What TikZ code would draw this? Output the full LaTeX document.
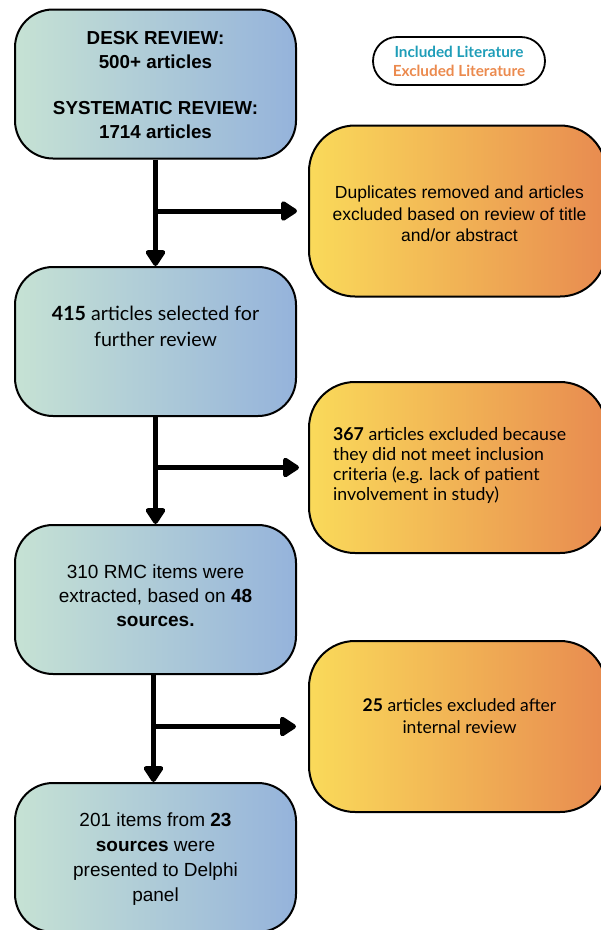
\documentclass[tikz,border=0pt]{standalone}
\usepackage{xcolor}
\usepackage{fontspec}
\setmainfont{Liberation Sans}
\newfontfamily\latofont{Lato}
\usepackage{tikz}
\usetikzlibrary{calc}
\usetikzlibrary{arrows.meta}
\definecolor{bluel}{HTML}{C6E2D4}
\definecolor{bluem}{HTML}{ABD5EC}
\definecolor{bluer}{HTML}{95B3DB}
\definecolor{orgl}{HTML}{FADA5A}
\definecolor{orgm}{HTML}{F0B35C}
\definecolor{orgr}{HTML}{E88B50}
\definecolor{inctxt}{HTML}{1E9DB8}
\definecolor{exctxt}{HTML}{EB8A4E}
\newcommand{\bnum}[1]{\textbf{#1}}

\begin{document}
\begin{tikzpicture}[x=1pt,y=-1pt,>={Triangle[width=22pt,length=18pt,round]},
	incbox/.style={rectangle,draw=black,line width=2pt,rounded corners=38pt,minimum width=281pt,minimum height=149pt,left color=bluel,middle color=bluem,right color=bluer},
	excbox/.style={rectangle,draw=black,line width=2pt,rounded corners=46pt,minimum width=297pt,minimum height=171pt,left color=orgl,middle color=orgm,right color=orgr},
	flow/.style={line width=5pt,->}]
			\useasboundingbox (0,0) rectangle (601,930);
			%legend
			\node at (459,61) (legend) [rectangle,draw=black,line width=1.8pt,rounded corners=24pt,minimum width=172pt,minimum height=48pt,align=center,font=\latofont\bfseries\fontsize{15.3}{19}\selectfont] {\color{inctxt}Included Literature\\\color{exctxt}Excluded Literature};

			%included boxes
			\node at (155.5,84) (desk) [incbox] {};
			\node at (155.5,341.5) (sel) [incbox] {};
			\node at (155.5,599.5) (rmc) [incbox] {};
			\node at (155.5,857.5) (delphi) [incbox] {};

			%excluded boxes
			\node at (457.5,211) (dup) [excbox] {};
			\node at (457.5,467.5) (crit) [excbox] {};
			\node at (457.5,726.5) (intern) [excbox] {};

			%texts
			\node at ($(desk)+(0,1)$) (desktxt) [align=center,font=\bfseries\fontsize{18.8}{24}\selectfont] {DESK REVIEW:\\500+ articles\\[22pt]SYSTEMATIC REVIEW:\\1714 articles};
			\node at ($(sel)+(0,-15)$) (seltxt) [align=center,font=\latofont\fontsize{19.6}{26}\selectfont] {\bnum{415} articles selected for\\further review};
			\node at ($(rmc)+(0,-4)$) (rmctxt) [align=center,font=\fontsize{19}{24}\selectfont] {310 RMC items were\\extracted, based on \bnum{48}\\\bnum{sources.}};
			\node at ($(delphi)+(0,2)$) (delphitxt) [align=center,font=\fontsize{19}{25}\selectfont] {201 items from \bnum{23}\\\bnum{sources} were\\presented to Delphi\\panel};
			\node at ($(dup)+(2,3)$) (duptxt) [align=center,font=\fontsize{17.5}{21.5}\selectfont] {Duplicates removed and articles\\excluded based on review of title\\and/or abstract};
			\node [anchor=west,inner sep=0pt] at (333,465) (crittxt) [align=left,font=\latofont\fontsize{17.7}{20}\selectfont] {\bnum{367} articles excluded because\\they did not meet inclusion\\criteria (e.g. lack of patient\\involvement in study)};
			\node at ($(intern)+(2,-10)$) (interntxt) [align=center,font=\latofont\fontsize{17.5}{22}\selectfont] {\bnum{25} articles excluded after\\internal review};

			%branch points
			\coordinate (b1) at (desk.south |- dup.west);
			\coordinate (b2) at (sel.south |- crit.west);
			\coordinate (b3) at ($(rmc.south |- intern.west)+(-2,0)$);

			%connectors
			\draw [flow] (desk.south) -- (sel.north);
			\draw [flow] (sel.south) -- (rmc.north);
			\draw [flow] ($(rmc.south)+(-2,0)$) -- ($(delphi.north)+(-2,0)$);
			\draw [flow,shorten >=11pt] (b1) -- (dup.west);
			\draw [flow,shorten >=9pt] (b2) -- (crit.west);
			\draw [flow,shorten >=12pt] (b3) -- (intern.west);
		\end{tikzpicture}
\end{document}
